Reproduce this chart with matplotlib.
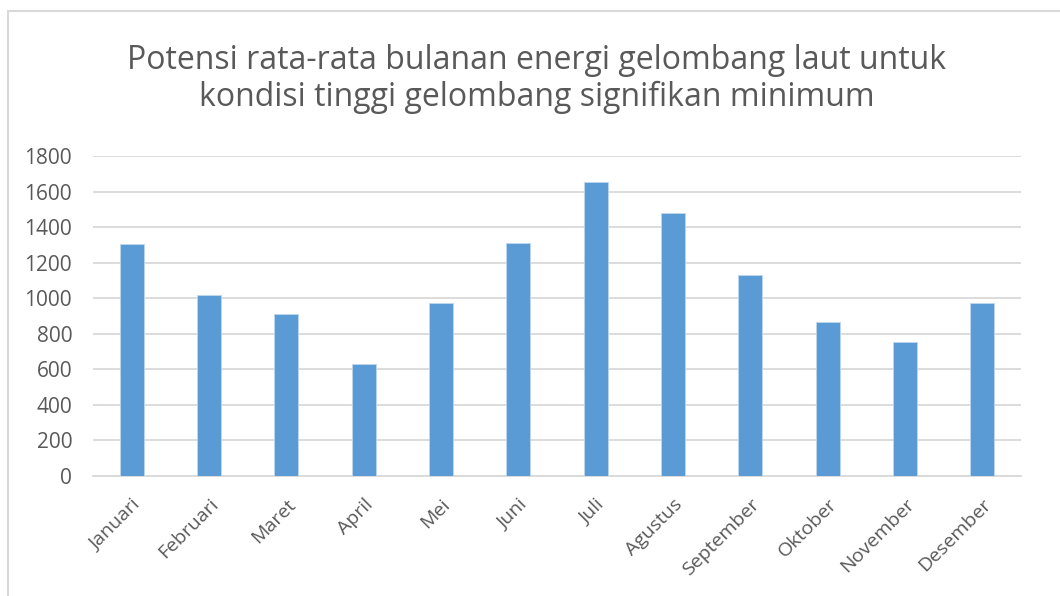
import matplotlib
matplotlib.use("Agg")
import matplotlib.pyplot as plt
from matplotlib.patches import Rectangle

# monthly averages
bulan = ["Januari", "Februari", "Maret", "April", "Mei", "Juni", "Juli",
         "Agustus", "September", "Oktober", "November", "Desember"]
energi = [1303, 1018, 909, 630, 971, 1311, 1656, 1481, 1133, 866, 752, 971]
yticks = [0, 200, 400, 600, 800, 1000, 1200, 1400, 1600, 1800]

judul = ("Potensi rata-rata bulanan energi gelombang laut untuk\n"
         "kondisi tinggi gelombang signifikan minimum")

plt.rcParams['font.family'] = ['Open Sans', 'DejaVu Sans']
abu = "#595959"

fig = plt.figure(figsize=(10.6, 5.96), dpi=100)
ax = fig.add_axes([93/1060, 1 - 476/596, 928/1060, 320/596])

# outer chart border (goes off the right and bottom edges)
fig.patches.append(Rectangle((8/1060, -0.1), 1.2, 1 - 11/596 + 0.1,
                             transform=fig.transFigure, fill=False,
                             edgecolor="#D9D9D9", linewidth=1.5))

x = range(len(bulan))
ax.bar(x, energi, width=0.31, color="#5B9BD5", edgecolor="#BDD7EE",
       linewidth=0.6, zorder=3)

ax.set_xlim(-0.5, len(bulan) - 0.5)
ax.set_ylim(0, 1800)
ax.set_yticks(yticks)
ax.set_yticklabels([str(v) for v in yticks], fontsize=15, color=abu)
ax.set_xticks(list(x))
ax.set_xticklabels(bulan, rotation=45, ha="right", rotation_mode="anchor",
                   fontsize=14, color=abu)
ax.tick_params(axis="y", length=0, pad=15)
ax.tick_params(axis="x", length=0, pad=14)

ax.grid(axis="y", color="#D9D9D9", linewidth=1.3, zorder=0)
for s in ["top", "right", "left"]:
    ax.spines[s].set_visible(False)
ax.spines["bottom"].set_color("#D9D9D9")
ax.spines["bottom"].set_linewidth(1.3)

fig.text(537/1060, 1 - 79/596, judul, ha="center", va="center",
         fontsize=23, color=abu, linespacing=1.12)

fig.savefig("out.png", dpi=100)
